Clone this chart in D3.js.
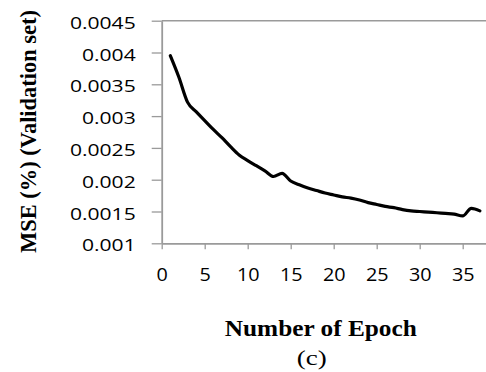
<!DOCTYPE html>
<html>
<head>
<meta charset="utf-8">
<script src="https://cdn.jsdelivr.net/npm/d3@7"></script>
<style>
  body { margin: 0; background: #fff; }
  svg { display: block; }
</style>
</head>
<body>
<svg id="chart" width="486" height="372"></svg>
<script>
// data
const epochs = d3.range(1, 38);
const mse = [
  0.00395, 0.00361, 0.00322, 0.00307, 0.00293, 0.00279, 0.00266, 0.00252,
  0.00239, 0.00230, 0.00222, 0.00214, 0.00205, 0.00210, 0.00198, 0.00192,
  0.00187, 0.00183, 0.00179, 0.00176, 0.00173, 0.00171, 0.00168, 0.00164,
  0.00161, 0.00158, 0.00156, 0.00153, 0.00151, 0.00150, 0.00149, 0.00148,
  0.00147, 0.00146, 0.00143, 0.00155, 0.00151
];
const xTicks = [0, 5, 10, 15, 20, 25, 30, 35];
const yTicks = [0.001, 0.0015, 0.002, 0.0025, 0.003, 0.0035, 0.004, 0.0045];
const yTickLabels = ['0.001', '0.0015', '0.002', '0.0025', '0.003', '0.0035', '0.004', '0.0045'];

const xTitle = 'Number of Epoch';
const yTitle = 'MSE (%) (Validation set)';
const caption = '(c)';

const plotLeft = 161.7, plotTop = 20.7, plotBottom = 243.3;

const x = d3.scaleLinear().domain([0, 38]).range([plotLeft, plotLeft + 38 * 8.6]);
const y = d3.scaleLinear().domain([0.001, 0.0045]).range([plotBottom, plotTop]);

const svg = d3.select('#chart');
const axisColor = '#9a9a9a';

// stretch text horizontally, the picture's fonts are wide
function stretch(sel, k) {
  sel.each(function() {
    const w = this.getComputedTextLength();
    d3.select(this).attr('textLength', w * k).attr('lengthAdjust', 'spacingAndGlyphs');
  });
}

// top frame line
svg.append('line')
  .attr('x1', plotLeft).attr('x2', 486)
  .attr('y1', plotTop).attr('y2', plotTop)
  .attr('stroke', axisColor).attr('stroke-width', 1.6);

// y axis
const gy = svg.append('g')
  .attr('transform', `translate(${plotLeft},0)`)
  .call(d3.axisLeft(y).tickValues(yTicks)
    .tickFormat((d, i) => yTickLabels[i])
    .tickSize(10).tickSizeOuter(0).tickPadding(16));
gy.select('.domain').attr('stroke', axisColor).attr('stroke-width', 1.8);
gy.selectAll('.tick line').attr('stroke', axisColor).attr('stroke-width', 1.3);
gy.selectAll('.tick text')
  .attr('font-family', 'Open Sans, sans-serif')
  .attr('font-size', 17)
  .attr('font-weight', 500)
  .attr('fill', '#000')
  .attr('dy', '0.45em')
  .call(stretch, 1.24);

// x axis
const gx = svg.append('g')
  .attr('transform', `translate(0,${plotBottom})`)
  .call(d3.axisBottom(x).tickValues(xTicks).tickSize(6).tickSizeOuter(0).tickPadding(19));
gx.select('.domain').attr('stroke', axisColor).attr('stroke-width', 1.8);
gx.selectAll('.tick line').attr('stroke', axisColor).attr('stroke-width', 1.3);
gx.selectAll('.tick text')
  .attr('font-family', 'Open Sans, sans-serif')
  .attr('font-size', 18)
  .attr('font-weight', 500)
  .attr('fill', '#000')
  .call(stretch, 1.1);

// the line
const line = d3.line()
  .x((d, i) => x(epochs[i]))
  .y(d => y(d))
  .curve(d3.curveMonotoneX);

svg.append('path')
  .datum(mse)
  .attr('d', line)
  .attr('fill', 'none')
  .attr('stroke', '#000')
  .attr('stroke-width', 3.2)
  .attr('stroke-linejoin', 'round')
  .attr('stroke-linecap', 'round');

// titles
svg.append('text')
  .attr('transform', 'translate(35.5,131.5) rotate(-90)')
  .attr('text-anchor', 'middle')
  .attr('font-family', 'Liberation Serif, Times New Roman, serif')
  .attr('font-weight', 'bold')
  .attr('font-size', 22.5)
  .attr('textLength', 243)
  .attr('lengthAdjust', 'spacingAndGlyphs')
  .text(yTitle);

svg.append('text')
  .attr('x', 320.8).attr('y', 336)
  .attr('text-anchor', 'middle')
  .attr('font-family', 'Liberation Serif, Times New Roman, serif')
  .attr('font-weight', 'bold')
  .attr('font-size', 24)
  .attr('textLength', 192)
  .attr('lengthAdjust', 'spacingAndGlyphs')
  .text(xTitle);

svg.append('text')
  .attr('x', 311.7).attr('y', 365)
  .attr('text-anchor', 'middle')
  .attr('font-family', 'Liberation Serif, Times New Roman, serif')
  .attr('font-size', 22)
  .attr('textLength', 30)
  .attr('lengthAdjust', 'spacingAndGlyphs')
  .text(caption);
</script>
</body>
</html>
